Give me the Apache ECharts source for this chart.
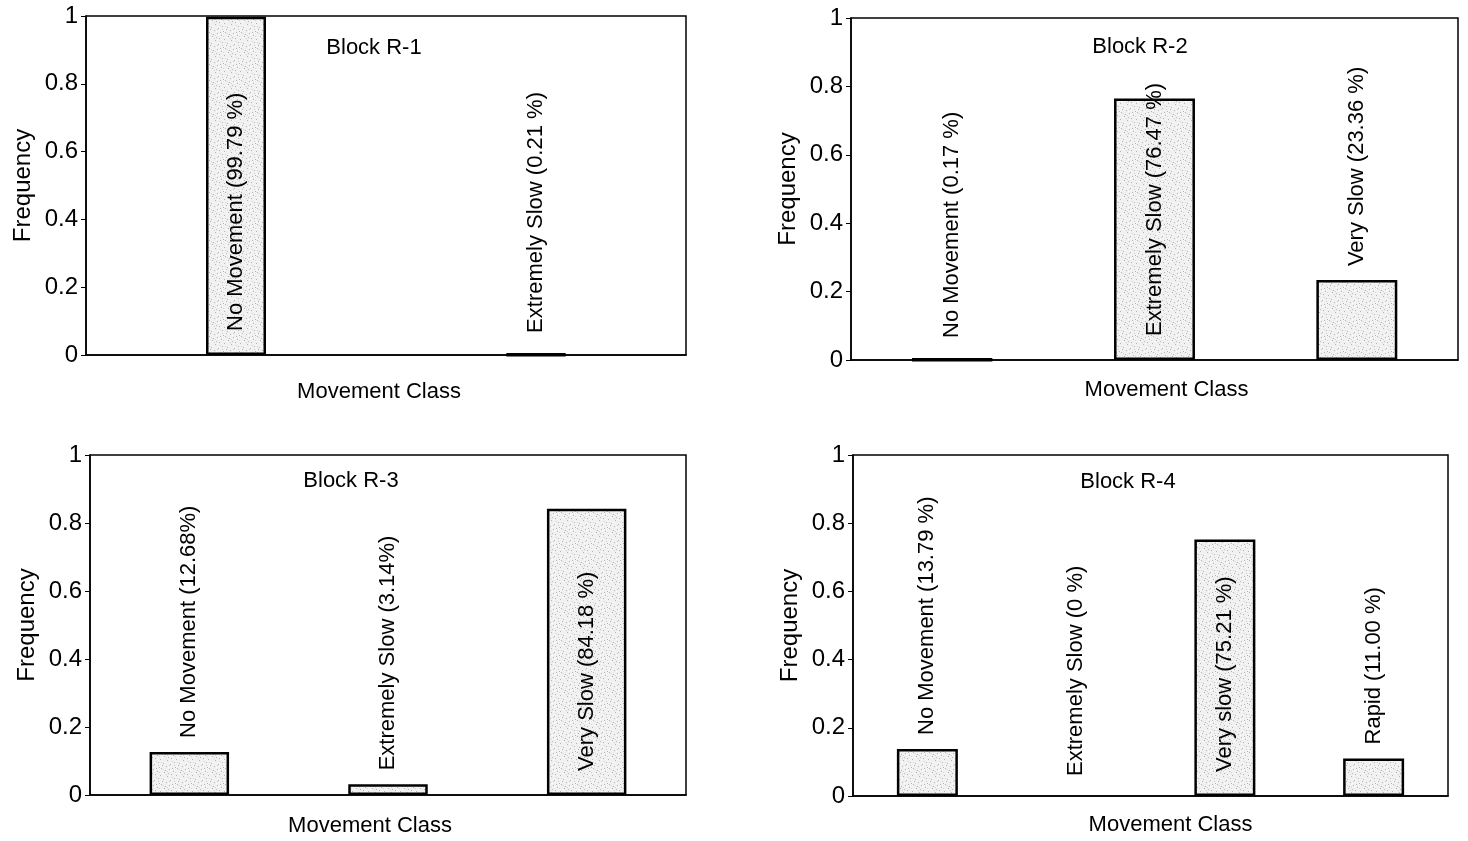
<!DOCTYPE html>
<html>
<head>
<meta charset="utf-8">
<title>Movement Class Frequency by Block</title>
<script src="https://cdn.jsdelivr.net/npm/echarts@6/dist/echarts.min.js"></script>
<style>
  html, body { margin: 0; padding: 0; background: #fff; }
  #chart { width: 1468px; height: 841px; }
</style>
</head>
<body>
<div id="chart"></div>
<script>
// ---- data: one set of arrays per block ----
const blockNames = ['Block R-1', 'Block R-2', 'Block R-3', 'Block R-4'];

const categoriesR1 = ['No Movement', 'Extremely Slow'];
const valuesR1 = [0.9979, 0.0021];
const labelsR1 = ['No Movement (99.79 %)', 'Extremely Slow (0.21 %)'];

const categoriesR2 = ['No Movement', 'Extremely Slow', 'Very Slow'];
const valuesR2 = [0.0017, 0.7647, 0.2336];
const labelsR2 = ['No Movement (0.17 %)', 'Extremely Slow (76.47 %)', 'Very Slow (23.36 %)'];

const categoriesR3 = ['No Movement', 'Extremely Slow', 'Very Slow'];
const valuesR3 = [0.1268, 0.0314, 0.8418];
const labelsR3 = ['No Movement (12.68%)', 'Extremely Slow (3.14%)', 'Very Slow (84.18 %)'];

const categoriesR4 = ['No Movement', 'Extremely Slow', 'Very slow', 'Rapid'];
const valuesR4 = [0.1379, 0, 0.7521, 0.1100];
const labelsR4 = ['No Movement (13.79 %)', 'Extremely Slow (0 %)', 'Very slow (75.21 %)', 'Rapid (11.00 %)'];

const yTicks = [0, 0.2, 0.4, 0.6, 0.8, 1];
const xAxisTitle = 'Movement Class';
const yAxisTitle = 'Frequency';

// ---- layout / style ----
const FONT = '"Liberation Sans", Arial, Helvetica, sans-serif';
const FS = 22;       // titles, bar labels, x-axis name
const FS_AXIS = 24;  // tick labels and y-axis name

const panels = [
  { cats: categoriesR1, vals: valuesR1, labels: labelsR1, grid: { left: 86, top: 16, width: 600, height: 339 }, barWidth: '20%', nameGapX: 26, namePad: [0, 14, 0, 0], titlePos: [374, 48] },
  { cats: categoriesR2, vals: valuesR2, labels: labelsR2, grid: { left: 851, top: 18, width: 607, height: 342 }, barWidth: '40%', nameGapX: 19, namePad: [0, 0, 0, 24], titlePos: [1140, 47] },
  { cats: categoriesR3, vals: valuesR3, labels: labelsR3, grid: { left: 90, top: 455, width: 596, height: 340 }, barWidth: '40%', nameGapX: 20, namePad: [0, 36, 0, 0], titlePos: [351, 481] },
  { cats: categoriesR4, vals: valuesR4, labels: labelsR4, grid: { left: 853, top: 455, width: 595, height: 341 }, barWidth: '41%', nameGapX: 18, namePad: [0, 0, 0, 40], titlePos: [1128, 482] }
];

// light speckled grey used for the bar fill
function stipple() {
  const n = 16;
  const c = document.createElement('canvas');
  c.width = n; c.height = n;
  const g = c.getContext('2d');
  g.fillStyle = '#f1f1f1';
  g.fillRect(0, 0, n, n);
  const dark = [[1, 0], [9, 1], [13, 3], [4, 4], [11, 6], [0, 7], [7, 8], [14, 10],
                [3, 11], [10, 12], [6, 14], [15, 15], [12, 0], [5, 2], [2, 13], [8, 5]];
  g.fillStyle = '#b4b4b4';
  dark.forEach(([x, y]) => g.fillRect(x, y, 1, 1));
  const mid = [[3, 1], [15, 4], [6, 6], [12, 9], [1, 10], [9, 13], [14, 13], [7, 3]];
  g.fillStyle = '#d4d4d4';
  mid.forEach(([x, y]) => g.fillRect(x, y, 1, 1));
  const light = [[2, 5], [10, 2], [13, 7], [5, 10], [8, 15], [0, 14]];
  g.fillStyle = '#ffffff';
  light.forEach(([x, y]) => g.fillRect(x, y, 1, 1));
  return c;
}
const pattern = { image: stipple(), repeat: 'repeat' };

const grids = [], xAxes = [], yAxes = [], series = [], graphics = [];

panels.forEach((p, i) => {
  grids.push(Object.assign({ show: true, borderColor: '#000', borderWidth: 1.5, backgroundColor: 'transparent' }, p.grid));

  xAxes.push({
    type: 'category', gridIndex: i, data: p.cats,
    axisLine: { lineStyle: { color: '#000', width: 1.5 } },
    axisTick: { show: false }, axisLabel: { show: false },
    name: xAxisTitle, nameLocation: 'middle', nameGap: p.nameGapX,
    nameTextStyle: { color: '#000', fontFamily: FONT, fontSize: FS, verticalAlign: 'top', padding: p.namePad }
  });

  yAxes.push({
    type: 'value', gridIndex: i, min: yTicks[0], max: yTicks[yTicks.length - 1],
    interval: yTicks[1] - yTicks[0],
    axisLine: { show: true, lineStyle: { color: '#000', width: 1.5 } },
    axisTick: { show: true, length: 5, lineStyle: { color: '#000' } },
    splitLine: { show: false },
    axisLabel: { color: '#000', fontFamily: FONT, fontSize: FS_AXIS, margin: 8 },
    name: yAxisTitle, nameLocation: 'middle', nameGap: 51, nameRotate: 90,
    nameTextStyle: { color: '#000', fontFamily: FONT, fontSize: FS_AXIS }
  });

  series.push({
    type: 'bar', xAxisIndex: i, yAxisIndex: i,
    barWidth: p.barWidth,
    itemStyle: { color: pattern, borderColor: '#000', borderWidth: 2.5 },
    label: {
      show: true, rotate: 90, align: 'left', verticalAlign: 'middle',
      color: '#000', fontFamily: FONT, fontSize: FS
    },
    data: p.vals.map((v, k) => ({
      value: v,
      // an empty class gets no outline at all
      itemStyle: v === 0 ? { borderWidth: 0 } : (v < 0.01 ? { borderWidth: 3.5 } : undefined),
      // tall bars carry their label inside, short ones just above the top
      label: {
        formatter: p.labels[k],
        position: v > 0.5 ? 'insideBottom' : 'top',
        distance: v > 0.5 ? 24 : (v < 0.01 ? 20 : 14)
      }
    }))
  });

  graphics.push({
    type: 'text', x: p.titlePos[0], y: p.titlePos[1],
    style: { text: blockNames[i], fill: '#000', font: FS + 'px ' + FONT, align: 'center', verticalAlign: 'middle' }
  });
});

const chart = echarts.init(document.getElementById('chart'), null, { renderer: 'canvas' });
chart.setOption({
  animation: false,
  backgroundColor: '#fff',
  grid: grids,
  xAxis: xAxes,
  yAxis: yAxes,
  series: series,
  graphic: graphics
});
</script>
</body>
</html>
